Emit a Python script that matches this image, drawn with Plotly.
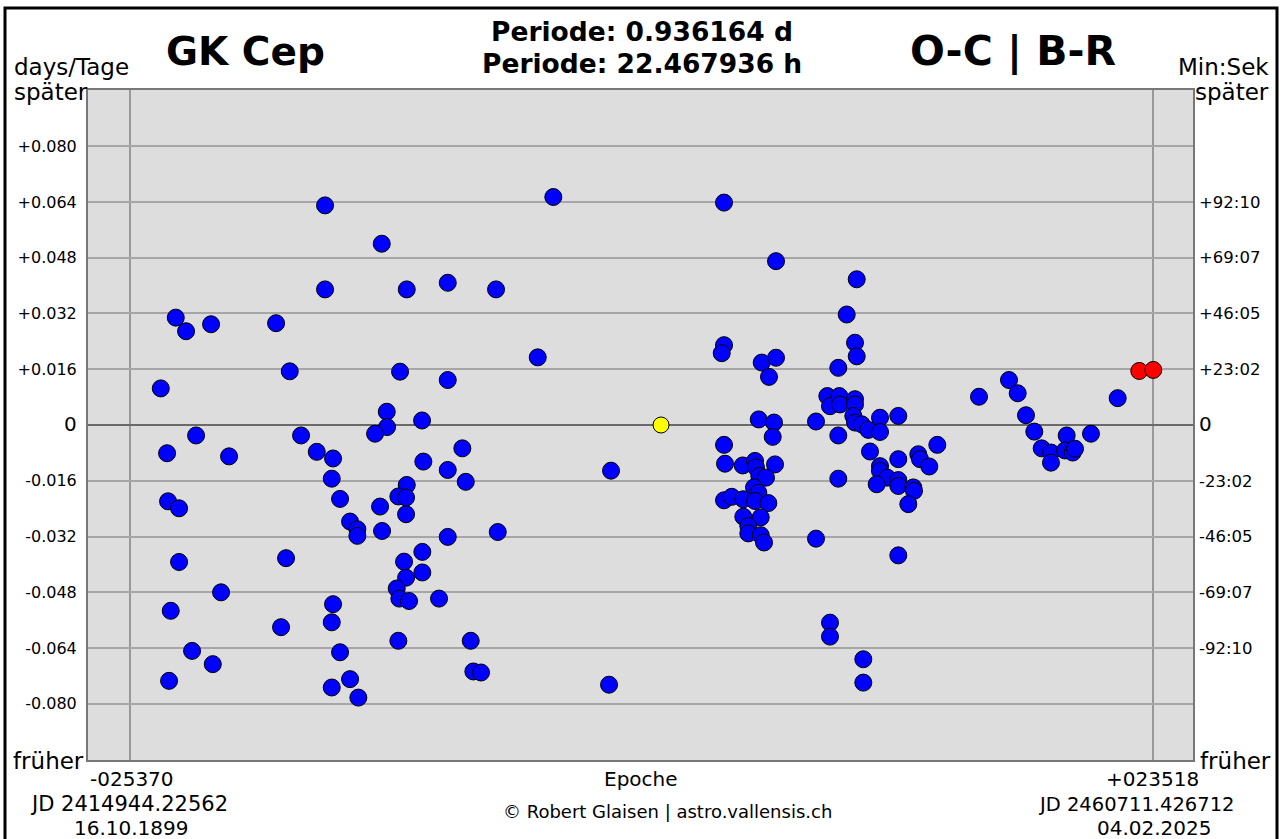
import plotly.graph_objects as go

# ---------------- data ----------------
blue_epoch = [
    -23899, -23183, -22691, -21497, -22213, -23598, -20637, -23551, -23025, -23025,
    -21019, -23422, -22404, -21415, -23503, -18391, -17737, -17914, -18153, -17197,
    -16447, -15669, -15731, -15334, -16051, -16051, -15669, -15731, -15334, -15731,
    -13342, -12148, -10189, -7882, -12468, -10189, -13103, -11417, -13089, -13662,
    -9492, -11355, -10189, -9329, -12148, -12549, -12181, -13423, -12181, -14856,
    -14508, -14508, -13328, -10189, -7801, -11403, -12277, -11403, -12181, -12626,
    -12501, -12038, -10605, -12549, -9091, -8966, -8599, -14856, -14460,
    -5145, -5890, -2389, -2484,
    3010, 5494, 3010, 2900, 4810, 5494, 5159, 4667, 5398, 5336,
    3010, 3057, 3903, 4490, 4538, 5446, 4696, 5016, 4443, 3010,
    3377, 3931, 4648, 4490, 5126, 3931, 4763, 4170, 4170, 4763, 4920,
    9349, 8871, 9267, 9349, 8470, 7944, 8073, 8517, 8551, 9267,
    9267, 9186, 9267, 9587, 9903, 10462, 10462, 11336, 7404, 8470,
    9984, 10462, 10462, 10810, 10304, 11336, 11336, 11336, 12052, 12086,
    11814, 12291, 12372, 12817, 13199, 8470, 7404, 11336, 8073, 8073,
    9664, 9664,
    15191, 16624, 17040, 17436, 17833, 18186, 18630, 18630, 19380, 19299,
    19667, 19777, 20541, 21817,
]
blue_oc = [
    0.0105, 0.0308, 0.0269, 0.0289, -0.0030, -0.0081, -0.0090, -0.0219, -0.0239, -0.0393,
    -0.0480, -0.0533, -0.0648, -0.0686, -0.0734, 0.0292, 0.0154, -0.0382, -0.0580, -0.0030,
    -0.0077, -0.0096, -0.0154, -0.0212, 0.0630, 0.0389, -0.0514, -0.0566, -0.0652, -0.0753,
    0.0520, 0.0389, 0.0408, 0.0389, 0.0153, 0.0129, 0.0038, 0.0013, -0.0006, -0.0025,
    -0.0067, -0.0105, -0.0129, -0.0163, -0.0172, -0.0205, -0.0208, -0.0234, -0.0256, -0.0277,
    -0.0299, -0.0318, -0.0304, -0.0321, -0.0307, -0.0364, -0.0392, -0.0423, -0.0438, -0.0469,
    -0.0498, -0.0505, -0.0498, -0.0619, -0.0619, -0.0707, -0.0710, -0.0729, -0.0782,
    0.0654, 0.0194, -0.0131, -0.0745,
    0.0638, 0.0470, 0.0229, 0.0206, 0.0179, 0.0193, 0.0138, 0.0016, 0.0007, -0.0034,
    -0.0057, -0.0111, -0.0116, -0.0103, -0.0122, -0.0113, -0.0146, -0.0151, -0.0179, -0.0216,
    -0.0206, -0.0213, -0.0194, -0.0218, -0.0224, -0.0263, -0.0265, -0.0290, -0.0311, -0.0316, -0.0337,
    0.0418, 0.0317, 0.0236, 0.0197, 0.0164, 0.0083, 0.0054, 0.0083, 0.0059, 0.0074,
    0.0059, 0.0026, 0.0007, 0.0002, -0.0014, 0.0021, -0.0020, 0.0026, 0.0010, -0.0030,
    -0.0076, -0.0118, -0.0132, -0.0151, -0.0170, -0.0098, -0.0158, -0.0175, -0.0179, -0.0189,
    -0.0227, -0.0084, -0.0098, -0.0119, -0.0057, -0.0154, -0.0326, -0.0374, -0.0567, -0.0607,
    -0.0672, -0.0739,
    0.0081, 0.0129, 0.0091, 0.0028, -0.0019, -0.0067, -0.0079, -0.0108, -0.0030, -0.0073,
    -0.0079, -0.0068, -0.0025, 0.0077,
]
yellow_epoch = [0]
yellow_oc = [0.0]
red_epoch = [22848, 23518]
red_oc = [0.0155, 0.0158]

grid_vals = [-0.080, -0.064, -0.048, -0.032, -0.016, 0.0, 0.016, 0.032, 0.048, 0.064, 0.080]
left_labels = ["-0.080", "-0.064", "-0.048", "-0.032", "-0.016", "0",
               "+0.016", "+0.032", "+0.048", "+0.064", "+0.080"]
right_vals = [-0.064, -0.048, -0.032, -0.016, 0.0, 0.016, 0.032, 0.048, 0.064]
right_labels = ["-92:10", "-69:07", "-46:05", "-23:02", "0",
                "+23:02", "+46:05", "+69:07", "+92:10"]
epoch_first, epoch_last = -25370, 23518

FONT = "DejaVu Sans, Verdana, sans-serif"
X_RANGE = [-27376, 25415]
Y_RANGE = [-0.0961, 0.0961]

def fmt_label(t):
    return "<span style='font-size:20px'>0</span>" if t == "0" else t

fig = go.Figure()
mk = dict(line=dict(color="black", width=1))
fig.add_trace(go.Scatter(x=blue_epoch, y=blue_oc, mode="markers",
                         marker=dict(color="#0000ff", size=17, **mk), showlegend=False))
fig.add_trace(go.Scatter(x=yellow_epoch, y=yellow_oc, mode="markers",
                         marker=dict(color="#ffff00", size=16, **mk), showlegend=False))
fig.add_trace(go.Scatter(x=red_epoch, y=red_oc, mode="markers", yaxis="y2",
                         marker=dict(color="#ff0000", size=17, **mk), showlegend=False))

fig.update_layout(
    width=1282, height=839,
    margin=dict(l=88, r=89, t=90, b=79),
    paper_bgcolor="white", plot_bgcolor="#dddddd",
    font=dict(family=FONT, color="black"),
    xaxis=dict(range=X_RANGE, tickvals=[epoch_first, epoch_last], showticklabels=False,
               ticks="", showgrid=True, gridcolor="#999999", gridwidth=2, zeroline=False,
               showline=True, linecolor="#777777", linewidth=2, mirror=True),
    yaxis=dict(range=Y_RANGE, tickvals=grid_vals, ticktext=[fmt_label(t) for t in left_labels],
               ticks="", ticklabelstandoff=6, tickfont=dict(size=16),
               showgrid=True, gridcolor="#a6a6a6", gridwidth=2,
               zeroline=True, zerolinecolor="#6a6a6a", zerolinewidth=2,
               showline=True, linecolor="#777777", linewidth=2, mirror=True),
    yaxis2=dict(range=Y_RANGE, overlaying="y", side="right", tickvals=right_vals,
                ticktext=[fmt_label(t) for t in right_labels], ticks="", ticklabelstandoff=5,
                tickfont=dict(size=16.5), showgrid=False, zeroline=False),
)

def px2x(px):
    return (px - 88) / 1105.0

def px2y(py):
    return (760 - py) / 670.0

ann = []
def add(text, px, py, size, xanchor="center", bold=False):
    ann.append(dict(text=("<b>%s</b>" % text) if bold else text, x=px2x(px), y=px2y(py),
                    xref="paper", yref="paper", xanchor=xanchor, yanchor="middle",
                    showarrow=False, font=dict(size=size, family=FONT, color="black")))

add("GK Cep", 245, 52, 39, bold=True)
add("Periode: 0.936164 d", 642, 31, 26.5, bold=True)
add("Periode: 22.467936 h", 642, 64, 26.5, bold=True)
add("O-C | B-R", 1013, 52, 41, bold=True)
add("days/Tage", 12, 67, 23, xanchor="left")
add("später", 12, 92, 23, xanchor="left")
add("Min:Sek", 1271, 67, 23, xanchor="right")
add("später", 1271, 92, 23, xanchor="right")
add("früher", 11, 761, 23, xanchor="left")
add("früher", 1273, 761, 23, xanchor="right")
add("-025370", 132, 779, 20)
add("Epoche", 641, 779, 20)
add("+023518", 1152, 779, 20)
add("JD 2414944.22562", 129, 804, 21)
add("16.10.1899", 131, 828, 20)
add("© Robert Glaisen | astro.vallensis.ch", 667, 812, 18)
add("JD 2460711.426712", 1136, 804, 19.5)
add("04.02.2025", 1154, 828, 20)
fig.update_layout(annotations=ann)

# outer frame
fig.add_shape(type="rect", xref="paper", yref="paper",
              x0=px2x(5), x1=px2x(1277), y0=px2y(850), y1=px2y(8),
              line=dict(color="black", width=3), fillcolor="rgba(0,0,0,0)", layer="above")

fig.write_html("out.html", config={"displayModeBar": False},
               post_script="document.body.style.margin='0';document.body.style.overflow='hidden';")
